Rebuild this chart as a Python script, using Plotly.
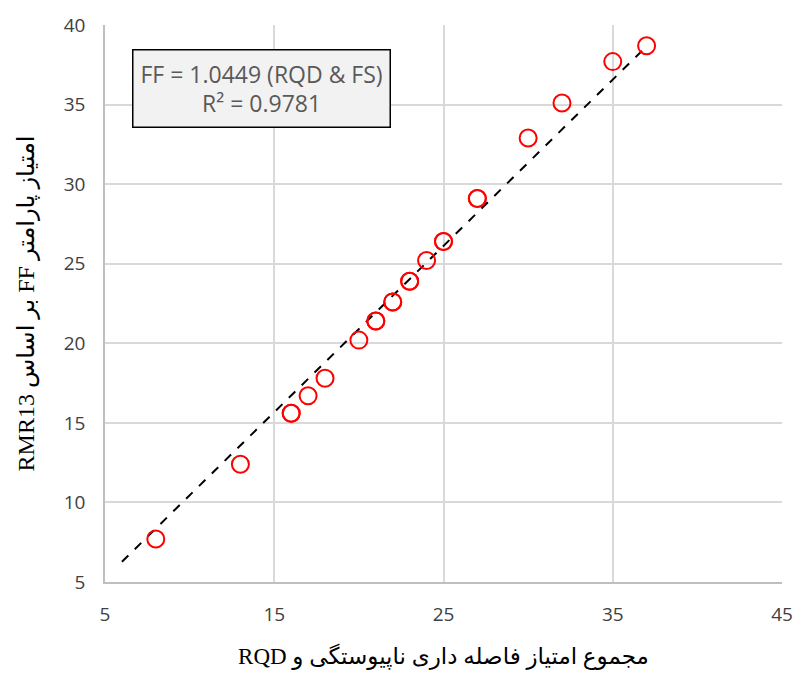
import plotly.graph_objects as go

x_vals = [8, 13, 16, 16, 17, 18, 20, 21, 21, 22, 22, 23, 23, 24, 25, 25, 27, 27, 30, 32, 35, 37]
y_vals = [7.7, 12.4, 15.6, 15.6, 16.7, 17.8, 20.2, 21.4, 21.4, 22.6, 22.6, 23.9, 23.9, 25.2, 26.4, 26.4, 29.1, 29.1, 32.9, 35.1, 37.7, 38.7]
trend_x = [6, 37]
trend_y = [6.27, 38.66]
x_ticks = [5, 15, 25, 35, 45]
y_ticks = [5, 10, 15, 20, 25, 30, 35, 40]

x_title = "RQD مجموع امتیاز فاصله داری ناپیوستگی و"
y_title = "RMR13 بر اساس FF امتیاز پارامتر"

fig = go.Figure()
fig.add_trace(go.Scatter(x=trend_x, y=trend_y, mode="lines",
                         line=dict(color="black", width=2, dash="dash"), showlegend=False))
fig.add_trace(go.Scatter(x=x_vals, y=y_vals, mode="markers",
                         marker=dict(symbol="circle-open", size=17, color="#ff0000",
                                     line=dict(width=2, color="#ff0000")),
                         showlegend=False))

fig.update_layout(
    width=805, height=677,
    margin=dict(l=105, r=15, t=20, b=94),
    plot_bgcolor="white", paper_bgcolor="white",
    font=dict(family="Open Sans", size=18, color="#404040"),
    xaxis=dict(range=[5, 45], tickvals=x_ticks, showgrid=True, gridcolor="#d9d9d9", gridwidth=1.5,
               showline=True, linecolor="#bfbfbf", linewidth=1.5, zeroline=False,
               ticks="", ticklabelstandoff=14, tickfont=dict(size=19, color="#404040"),
               title=dict(text=x_title,
                          font=dict(family="Liberation Serif, DejaVu Sans", size=23, color="black"),
                          standoff=22)),
    yaxis=dict(range=[5, 40], tickvals=y_ticks, showgrid=True, gridcolor="#d9d9d9", gridwidth=1.5,
               showline=True, linecolor="#bfbfbf", linewidth=1.5, zeroline=False,
               ticks="", ticklabelstandoff=14, tickfont=dict(size=19, color="#404040"),
               title=dict(text=y_title,
                          font=dict(family="Liberation Serif, DejaVu Sans", size=24, color="black"),
                          standoff=22)),
)

fig.add_annotation(xref="paper", yref="paper", x=(263.5 - 105) / 685, y=(583 - 84) / 563,
                   text="FF = 1.0449 (RQD & FS)<br>R² = 0.9781", showarrow=False,
                   font=dict(family="Open Sans", size=23, color="#595959"),
                   bgcolor="#f2f2f2", bordercolor="black", borderwidth=1.5, borderpad=7,
                   align="center", xanchor="center", yanchor="middle")

fig.write_html("out.html")
